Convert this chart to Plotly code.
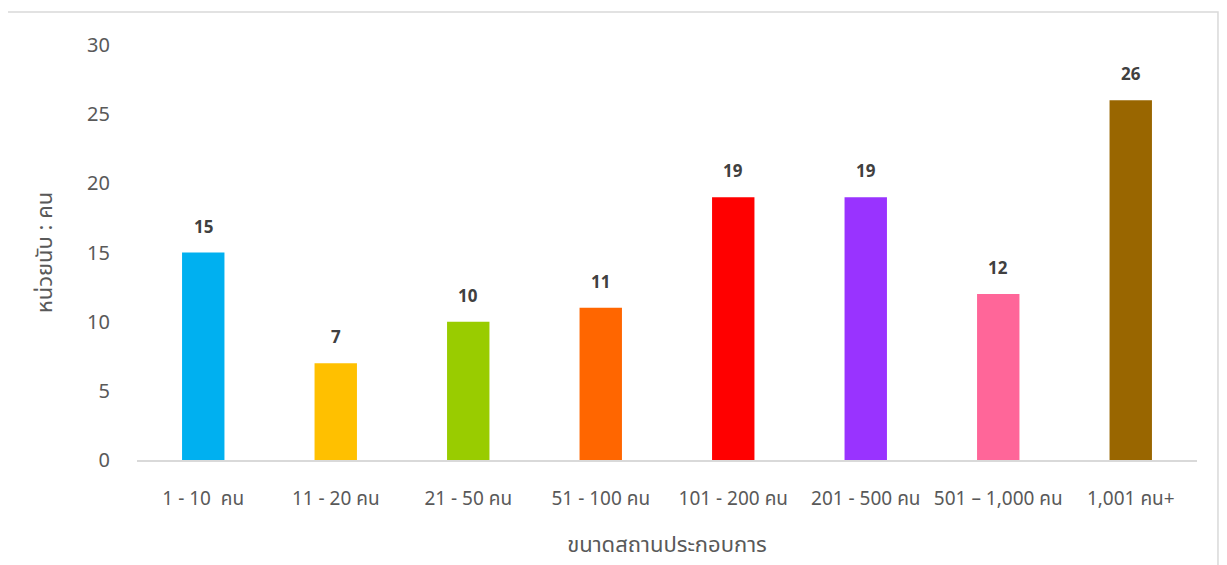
import plotly.graph_objects as go

categories = ["1 - 10\u00a0\u00a0คน", "11 - 20 คน", "21 - 50 คน", "51 - 100 คน",
              "101 - 200 คน", "201 - 500 คน", "501 – 1,000 คน", "1,001 คน+"]
values = [15, 7, 10, 11, 19, 19, 12, 26]
colors = ["#00B0F0", "#FFC000", "#99CC00", "#FF6600",
          "#FF0000", "#9933FF", "#FF6699", "#996600"]

FONT = "Noto Sans Thai, Tahoma, Noto Sans, sans-serif"
GRAY = "#595959"

fig = go.Figure()
fig.add_trace(go.Bar(x=categories, y=values, marker=dict(color=colors, line=dict(width=0)),
                     width=0.32, hoverinfo="x+y"))

for c, v in zip(categories, values):
    fig.add_annotation(x=c, y=v, text=f"<b>{v}</b>", showarrow=False,
                       yanchor="bottom", yshift=10,
                       font=dict(family=FONT, size=17, color="#404040"))

fig.update_layout(
    width=1219, height=557,
    margin=dict(l=129, r=30, t=37, b=101),
    paper_bgcolor="white", plot_bgcolor="white",
    showlegend=False,
    font=dict(family=FONT, size=19, color=GRAY),
    xaxis=dict(
        showline=True, linecolor="#d9d9d9", linewidth=1.5,
        showgrid=False, ticks="", ticklabelstandoff=20,
        title=dict(text="ขนาดสถานประกอบการ", standoff=24,
                   font=dict(family=FONT, size=22, color=GRAY)),
        tickfont=dict(family=FONT, size=19, color=GRAY),
    ),
    yaxis=dict(
        range=[0, 30], dtick=5, showgrid=False, zeroline=False, showline=False,
        ticks="", ticklabelstandoff=26,
        tickfont=dict(family=FONT, size=20, color=GRAY),
        title=dict(text="หน่วยนับ : คน", standoff=28,
                   font=dict(family=FONT, size=22, color=GRAY)),
    ),
    shapes=[dict(type="rect", xref="paper", yref="paper",
                 x0=-0.1245, x1=1.0198, y0=-0.3, y1=1.0793,
                 line=dict(color="#d9d9d9", width=1.5), fillcolor="rgba(0,0,0,0)",
                 layer="below")],
)

fig.write_html("out.html")
